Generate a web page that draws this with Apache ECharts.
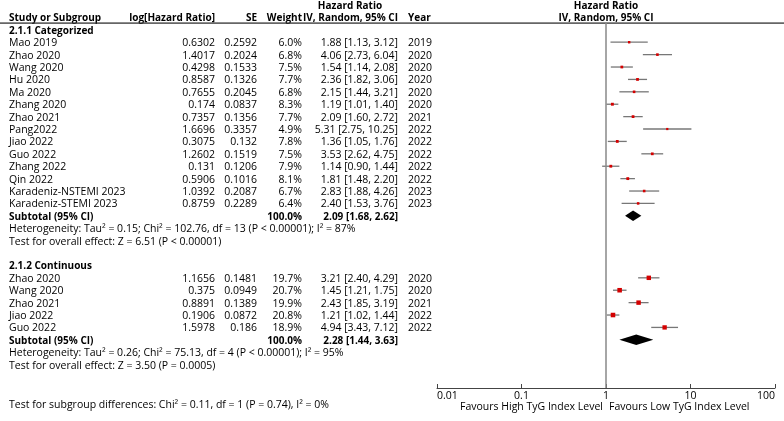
<!DOCTYPE html>
<html>
<head>
<meta charset="utf-8">
<script src="https://cdn.jsdelivr.net/npm/echarts@6/dist/echarts.min.js"></script>
<style>
html, body { margin: 0; padding: 0; background: #fff; }
#chart { width: 784px; height: 421px; }
</style>
</head>
<body>
<div id="chart"></div>
<script>
// 2.1.1 Categorized
const catStudies = ['Mao 2019', 'Zhao 2020', 'Wang 2020', 'Hu 2020', 'Ma 2020', 'Zhang 2020', 'Zhao 2021',
  'Pang2022', 'Jiao 2022', 'Guo 2022', 'Zhang 2022', 'Qin 2022', 'Karadeniz-NSTEMI 2023', 'Karadeniz-STEMI 2023'];
const catYears = [2019, 2020, 2020, 2020, 2020, 2020, 2021, 2022, 2022, 2022, 2022, 2022, 2023, 2023];
const catLogHr = [0.6302, 1.4017, 0.4298, 0.8587, 0.7655, 0.174, 0.7357, 1.6696, 0.3075, 1.2602, 0.131, 0.5906, 1.0392, 0.8759];
const catSe = [0.2592, 0.2024, 0.1533, 0.1326, 0.2045, 0.0837, 0.1356, 0.3357, 0.132, 0.1519, 0.1206, 0.1016, 0.2087, 0.2289];
const catWeight = [6.0, 6.8, 7.5, 7.7, 6.8, 8.3, 7.7, 4.9, 7.8, 7.5, 7.9, 8.1, 6.7, 6.4];
const catHr = [1.88, 4.06, 1.54, 2.36, 2.15, 1.19, 2.09, 5.31, 1.36, 3.53, 1.14, 1.81, 2.83, 2.40];
const catLo = [1.13, 2.73, 1.14, 1.82, 1.44, 1.01, 1.60, 2.75, 1.05, 2.62, 0.90, 1.48, 1.88, 1.53];
const catHi = [3.12, 6.04, 2.08, 3.06, 3.21, 1.40, 2.72, 10.25, 1.76, 4.75, 1.44, 2.20, 4.26, 3.76];
const catTotal = [2.09, 1.68, 2.62];
const catHet = 'Heterogeneity: Tau\u00b2 = 0.15; Chi\u00b2 = 102.76, df = 13 (P < 0.00001); I\u00b2 = 87%';
const catTest = 'Test for overall effect: Z = 6.51 (P < 0.00001)';

// 2.1.2 Continuous
const contStudies = ['Zhao 2020', 'Wang 2020', 'Zhao 2021', 'Jiao 2022', 'Guo 2022'];
const contYears = [2020, 2020, 2021, 2022, 2022];
const contLogHr = [1.1656, 0.375, 0.8891, 0.1906, 1.5978];
const contSe = [0.1481, 0.0949, 0.1389, 0.0872, 0.186];
const contWeight = [19.7, 20.7, 19.9, 20.8, 18.9];
const contHr = [3.21, 1.45, 2.43, 1.21, 4.94];
const contLo = [2.40, 1.21, 1.85, 1.02, 3.43];
const contHi = [4.29, 1.75, 3.19, 1.44, 7.12];
const contTotal = [2.28, 1.44, 3.63];
const contHet = 'Heterogeneity: Tau\u00b2 = 0.26; Chi\u00b2 = 75.13, df = 4 (P < 0.00001); I\u00b2 = 95%';
const contTest = 'Test for overall effect: Z = 3.50 (P = 0.0005)';

const subgroupTest = 'Test for subgroup differences: Chi\u00b2 = 0.11, df = 1 (P = 0.74), I\u00b2 = 0%';
const axisTicks = [0.01, 0.1, 1, 10, 100];

const FONT = '"Open Sans", sans-serif';
const FS = 10.5;      // regular text
const FS_BOLD = 10;   // bold text

// table cells: column x positions are in pixels of the table grid
const cells = [];
function cell(x, row, text, align, bold) {
  cells.push({ x: x, row: row, text: String(text), align: align, bold: !!bold });
}
function ci(h, l, u) {
  return h.toFixed(2) + ' [' + l.toFixed(2) + ', ' + u.toFixed(2) + ']';
}

// header
cell(350, -2, 'Hazard Ratio', 'center', true);
cell(9, -1, 'Study or Subgroup', 'left', true);
cell(215, -1, 'log[Hazard Ratio]', 'right', true);
cell(257, -1, 'SE', 'right', true);
cell(302, -1, 'Weight', 'right', true);
cell(398, -1, 'IV, Random, 95% CI', 'right', true);
cell(408, -1, 'Year', 'left', true);
cell(606, -2, 'Hazard Ratio', 'center', true);
cell(606, -1, 'IV, Random, 95% CI', 'center', true);

const forest = [];
function group(startRow, title, names, years, logHr, se, wt, hr, lo, hi, total, het, test) {
  cell(9, startRow, title, 'left', true);
  names.forEach(function (n, i) {
    const r = startRow + 1 + i;
    cell(9, r, n, 'left');
    cell(215, r, logHr[i], 'right');
    cell(257, r, se[i], 'right');
    cell(302, r, wt[i].toFixed(1) + '%', 'right');
    cell(398, r, ci(hr[i], lo[i], hi[i]), 'right');
    cell(408, r, years[i], 'left');
    forest.push([hr[i], lo[i], hi[i], r, wt[i], 0]);
  });
  const sr = startRow + 1 + names.length;
  cell(9, sr, 'Subtotal (95% CI)', 'left', true);
  cell(302, sr, '100.0%', 'right', true);
  cell(398, sr, ci(total[0], total[1], total[2]), 'right', true);
  cell(9, sr + 1, het, 'left');
  cell(9, sr + 2, test, 'left');
  forest.push([total[0], total[1], total[2], sr, 100, 1]);
}
group(0, '2.1.1 Categorized', catStudies, catYears, catLogHr, catSe, catWeight, catHr, catLo, catHi, catTotal, catHet, catTest);
group(19, '2.1.2 Continuous', contStudies, contYears, contLogHr, contSe, contWeight, contHr, contLo, contHi, contTotal, contHet, contTest);
cell(9, 30.2, subgroupTest, 'left');

const yMin = -0.55, yMax = 28.885;

const myChart = echarts.init(document.getElementById('chart'));
const option = {
  animation: false,
  backgroundColor: '#fff',
  grid: [
    { left: 0, right: 0, top: 23, height: 365 },
    { left: 437, right: 9, top: 23, height: 365 },
  ],
  xAxis: [
    { gridIndex: 0, type: 'value', min: 0, max: 784, show: false },
    {
      gridIndex: 1, type: 'log', logBase: 10, min: 0.01, max: 100, position: 'bottom',
      axisLine: { onZero: false, lineStyle: { color: '#444', width: 1 } },
      axisTick: { inside: true, length: 4, lineStyle: { color: '#444' } },
      minorTick: { show: false },
      splitLine: { show: false },
      axisLabel: {
        margin: 3, color: '#000', fontSize: FS, fontFamily: FONT,
        alignMinLabel: 'left', alignMaxLabel: 'right',
        formatter: function (v) { return String(+(+v).toPrecision(3)); },
      },
    },
  ],
  yAxis: [
    { gridIndex: 0, type: 'value', inverse: true, min: yMin, max: yMax, show: false },
    { gridIndex: 1, type: 'value', inverse: true, min: yMin, max: yMax, show: false },
  ],
  series: [
    {
      // rule under the header
      type: 'line', xAxisIndex: 0, yAxisIndex: 0, symbol: 'none', silent: true,
      lineStyle: { color: '#333', width: 1.3 },
      data: [[0, yMin], [784, yMin]],
    },
    {
      // line of no effect
      type: 'line', xAxisIndex: 1, yAxisIndex: 1, symbol: 'none', silent: true,
      lineStyle: { color: '#888', width: 1.5 },
      data: [[1, yMin], [1, yMax]],
    },
    {
      type: 'custom', xAxisIndex: 0, yAxisIndex: 0, clip: false, silent: true,
      data: cells.map(function (c) { return [c.x, c.row]; }),
      renderItem: function (params, api) {
        const c = cells[params.dataIndex];
        const p = api.coord([c.x, c.row]);
        return {
          type: 'text', x: p[0], y: p[1] + 1,
          style: {
            text: c.text, align: c.align, verticalAlign: 'middle', fill: '#000',
            fontFamily: FONT, fontSize: c.bold ? FS_BOLD : FS, fontWeight: c.bold ? 'bold' : 'normal',
          },
        };
      },
    },
    {
      type: 'custom', xAxisIndex: 1, yAxisIndex: 1, clip: false, silent: true,
      encode: { x: [0, 1, 2], y: 3 },
      data: forest,
      renderItem: function (params, api) {
        const est = api.value(0), lo = api.value(1), hi = api.value(2);
        const row = api.value(3), w = api.value(4), kind = api.value(5);
        if (kind === 1) {
          return {
            type: 'polygon',
            shape: { points: [api.coord([lo, row]), api.coord([est, row - 0.42]), api.coord([hi, row]), api.coord([est, row + 0.42])] },
            style: { fill: '#000' },
          };
        }
        const a = api.coord([lo, row]), b = api.coord([hi, row]), c = api.coord([est, row]);
        const s = Math.sqrt(w);
        return {
          type: 'group',
          children: [
            { type: 'line', shape: { x1: a[0], y1: a[1], x2: b[0], y2: b[1] }, style: { stroke: '#777', lineWidth: 1.3 } },
            { type: 'rect', shape: { x: c[0] - s / 2, y: c[1] - s / 2, width: s, height: s }, style: { fill: '#d40000' } },
          ],
        };
      },
    },
    {
      // axis captions either side of 1
      type: 'custom', xAxisIndex: 1, yAxisIndex: 1, clip: false, silent: true,
      data: [[1, 30.38, -1], [1, 30.38, 1]],
      renderItem: function (params, api) {
        const p = api.coord([api.value(0), api.value(1)]);
        const side = api.value(2);
        return {
          type: 'text', x: p[0] + side * 3, y: p[1],
          style: {
            text: side < 0 ? 'Favours High TyG Index Level' : 'Favours Low TyG Index Level',
            align: side < 0 ? 'right' : 'left', verticalAlign: 'middle', fill: '#000',
            fontFamily: FONT, fontSize: FS,
          },
        };
      },
    },
  ],
};
myChart.setOption(option);
window.onresize = function () { myChart.resize(); };
</script>
</body>
</html>
